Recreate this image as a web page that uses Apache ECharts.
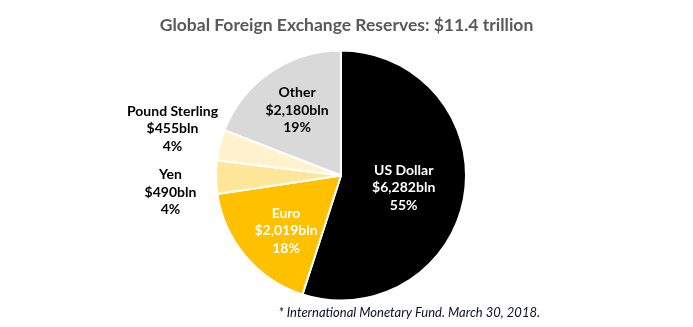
<!DOCTYPE html>
<html>
<head>
<meta charset="utf-8">
<script src="https://cdn.jsdelivr.net/npm/echarts@6/dist/echarts.min.js"></script>
<style>
  html, body { margin: 0; padding: 0; background: #ffffff; }
  #chart { width: 693px; height: 327px; }
</style>
</head>
<body>
<div id="chart"></div>
<script>
// Reserve holdings by currency, billions of US dollars
const currencies = ['US Dollar', 'Euro', 'Yen', 'Pound Sterling', 'Other'];
const reservesBln = [6282, 2019, 490, 455, 2180];
const sharePct = [55, 18, 4, 4, 19];
const sliceColors = ['#000000', '#FFC000', '#FFE699', '#FFF2CC', '#D9D9D9'];
const labelColors = ['#ffffff', '#ffffff', '#000000', '#000000', '#000000'];

// Label nudges from the library's inside-label anchor
const labelShift = [[-2, 2], [-5, 13], [-105, 16], [-105, -31], [-7, -11]];

const FONT = 'Lato, "Open Sans", sans-serif';

const fmtBln = v => '$' + v.toLocaleString('en-US') + 'bln';

const chart = echarts.init(document.getElementById('chart'), null, { renderer: 'canvas' });

chart.setOption({
  animation: false,
  title: {
    text: 'Global Foreign Exchange Reserves: $11.4 trillion',
    left: 'center',
    top: 11,
    textStyle: { fontFamily: FONT, fontSize: 17.5, fontWeight: 'bold', color: '#595959' }
  },
  graphic: [{
    type: 'text',
    right: 153,
    top: 306,
    style: {
      text: '* International Monetary Fund. March 30, 2018.',
      font: 'italic 13px ' + FONT,
      fill: '#0d0d26'
    }
  }],
  series: [{
    type: 'pie',
    center: [341, 175.5],
    radius: [0, 125],
    startAngle: 90,
    clockwise: true,
    itemStyle: { borderColor: '#ffffff', borderWidth: 2 },
    label: {
      show: true,
      position: 'inside',
      fontFamily: FONT,
      fontSize: 14,
      fontWeight: 'bold',
      lineHeight: 17.5,
      align: 'center',
      formatter: p => p.name + '\n' + fmtBln(p.value) + '\n' + sharePct[p.dataIndex] + '%'
    },
    labelLine: { show: false },
    labelLayout: p => ({ dx: labelShift[p.dataIndex][0], dy: labelShift[p.dataIndex][1] }),
    emphasis: { disabled: true },
    data: currencies.map((name, i) => ({
      name: name,
      value: reservesBln[i],
      itemStyle: { color: sliceColors[i] },
      label: { color: labelColors[i] }
    }))
  }]
});
</script>
</body>
</html>
